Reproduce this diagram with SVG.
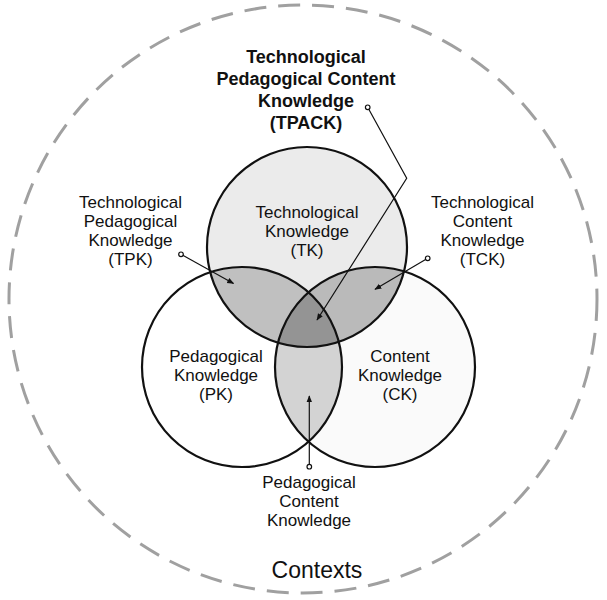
<svg xmlns="http://www.w3.org/2000/svg" width="607" height="600" viewBox="0 0 607 600">
<style>
  text { font-family: "Liberation Sans", Arial, sans-serif; fill: #111; text-anchor: middle; }
  .lbl { font-size: 17px; }
  .bold { font-size: 18px; font-weight: bold; }
  .ctx { font-size: 23px; }
  .ring { fill: none; stroke: #a0a0a0; stroke-width: 3; stroke-dasharray: 22 12; }
  .outline { fill: none; stroke: #111; stroke-width: 2.2; }
  .conn { fill: none; stroke: #111; stroke-width: 1.2; }
  .dot { fill: #fff; stroke: #111; stroke-width: 1.2; }
</style>
<defs>
  <marker id="arr" viewBox="0 0 10 10" refX="9" refY="5" markerWidth="7" markerHeight="7" orient="auto" markerUnits="userSpaceOnUse">
    <path d="M0,1 L10,5 L0,9 z" fill="#111"/>
  </marker>
  <clipPath id="clipTK"><circle cx="307" cy="247" r="100"/></clipPath>
  <clipPath id="clipPK"><circle cx="242" cy="367" r="100"/></clipPath>
</defs>
<rect width="607" height="600" fill="#fff"/>

<g id="contexts">
  <circle class="ring" cx="303" cy="299" r="294"/>
  <text class="ctx" x="317" y="578">Contexts</text>
</g>

<g id="shading">
  <circle cx="307" cy="247" r="100" fill="#ebebeb"/>
  <circle cx="375" cy="367" r="100" fill="#fafafa"/>
  <circle cx="242" cy="367" r="100" fill="#c0c0c0" clip-path="url(#clipTK)"/>
  <circle cx="375" cy="367" r="100" fill="#bababa" clip-path="url(#clipTK)"/>
  <circle cx="375" cy="367" r="100" fill="#d3d3d3" clip-path="url(#clipPK)"/>
  <g clip-path="url(#clipTK)">
    <circle cx="375" cy="367" r="100" fill="#949494" clip-path="url(#clipPK)"/>
  </g>
</g>

<g id="tk">
  <circle class="outline" cx="307" cy="247" r="100"/>
  <text class="lbl" x="307" y="218">Technological</text>
  <text class="lbl" x="307" y="237">Knowledge</text>
  <text class="lbl" x="307" y="256">(TK)</text>
</g>
<g id="pk">
  <circle class="outline" cx="242" cy="367" r="100"/>
  <text class="lbl" x="216" y="362">Pedagogical</text>
  <text class="lbl" x="216" y="381">Knowledge</text>
  <text class="lbl" x="216" y="400">(PK)</text>
</g>
<g id="ck">
  <circle class="outline" cx="375" cy="367" r="100"/>
  <text class="lbl" x="400" y="362">Content</text>
  <text class="lbl" x="400" y="381">Knowledge</text>
  <text class="lbl" x="400" y="400">(CK)</text>
</g>

<g id="connectors">
  <polyline class="conn" points="367.7,107.3 406.7,178.3 317,320" marker-end="url(#arr)"/>
  <line class="conn" x1="181" y1="254.3" x2="233.5" y2="283.5" marker-end="url(#arr)"/>
  <line class="conn" x1="427.7" y1="258.3" x2="375" y2="289.3" marker-end="url(#arr)"/>
  <line class="conn" x1="309.3" y1="466.7" x2="309.3" y2="396" marker-end="url(#arr)"/>
  <circle class="dot" cx="367.7" cy="107.3" r="2.3"/>
  <circle class="dot" cx="181" cy="254.3" r="2.3"/>
  <circle class="dot" cx="427.7" cy="258.3" r="2.3"/>
  <circle class="dot" cx="309.3" cy="466.7" r="2.3"/>
</g>

<g id="tpack">
  <text class="bold" x="306" y="63">Technological</text>
  <text class="bold" x="306" y="85">Pedagogical Content</text>
  <text class="bold" x="306" y="107">Knowledge</text>
  <text class="bold" x="306" y="129">(TPACK)</text>
</g>
<g id="tpk">
  <text class="lbl" x="130.5" y="208">Technological</text>
  <text class="lbl" x="130.5" y="227">Pedagogical</text>
  <text class="lbl" x="130.5" y="246">Knowledge</text>
  <text class="lbl" x="130.5" y="265">(TPK)</text>
</g>
<g id="tck">
  <text class="lbl" x="482.5" y="208">Technological</text>
  <text class="lbl" x="482.5" y="227">Content</text>
  <text class="lbl" x="482.5" y="246">Knowledge</text>
  <text class="lbl" x="482.5" y="265">(TCK)</text>
</g>
<g id="pck">
  <text class="lbl" x="309" y="488">Pedagogical</text>
  <text class="lbl" x="309" y="507">Content</text>
  <text class="lbl" x="309" y="526">Knowledge</text>
</g>
</svg>
